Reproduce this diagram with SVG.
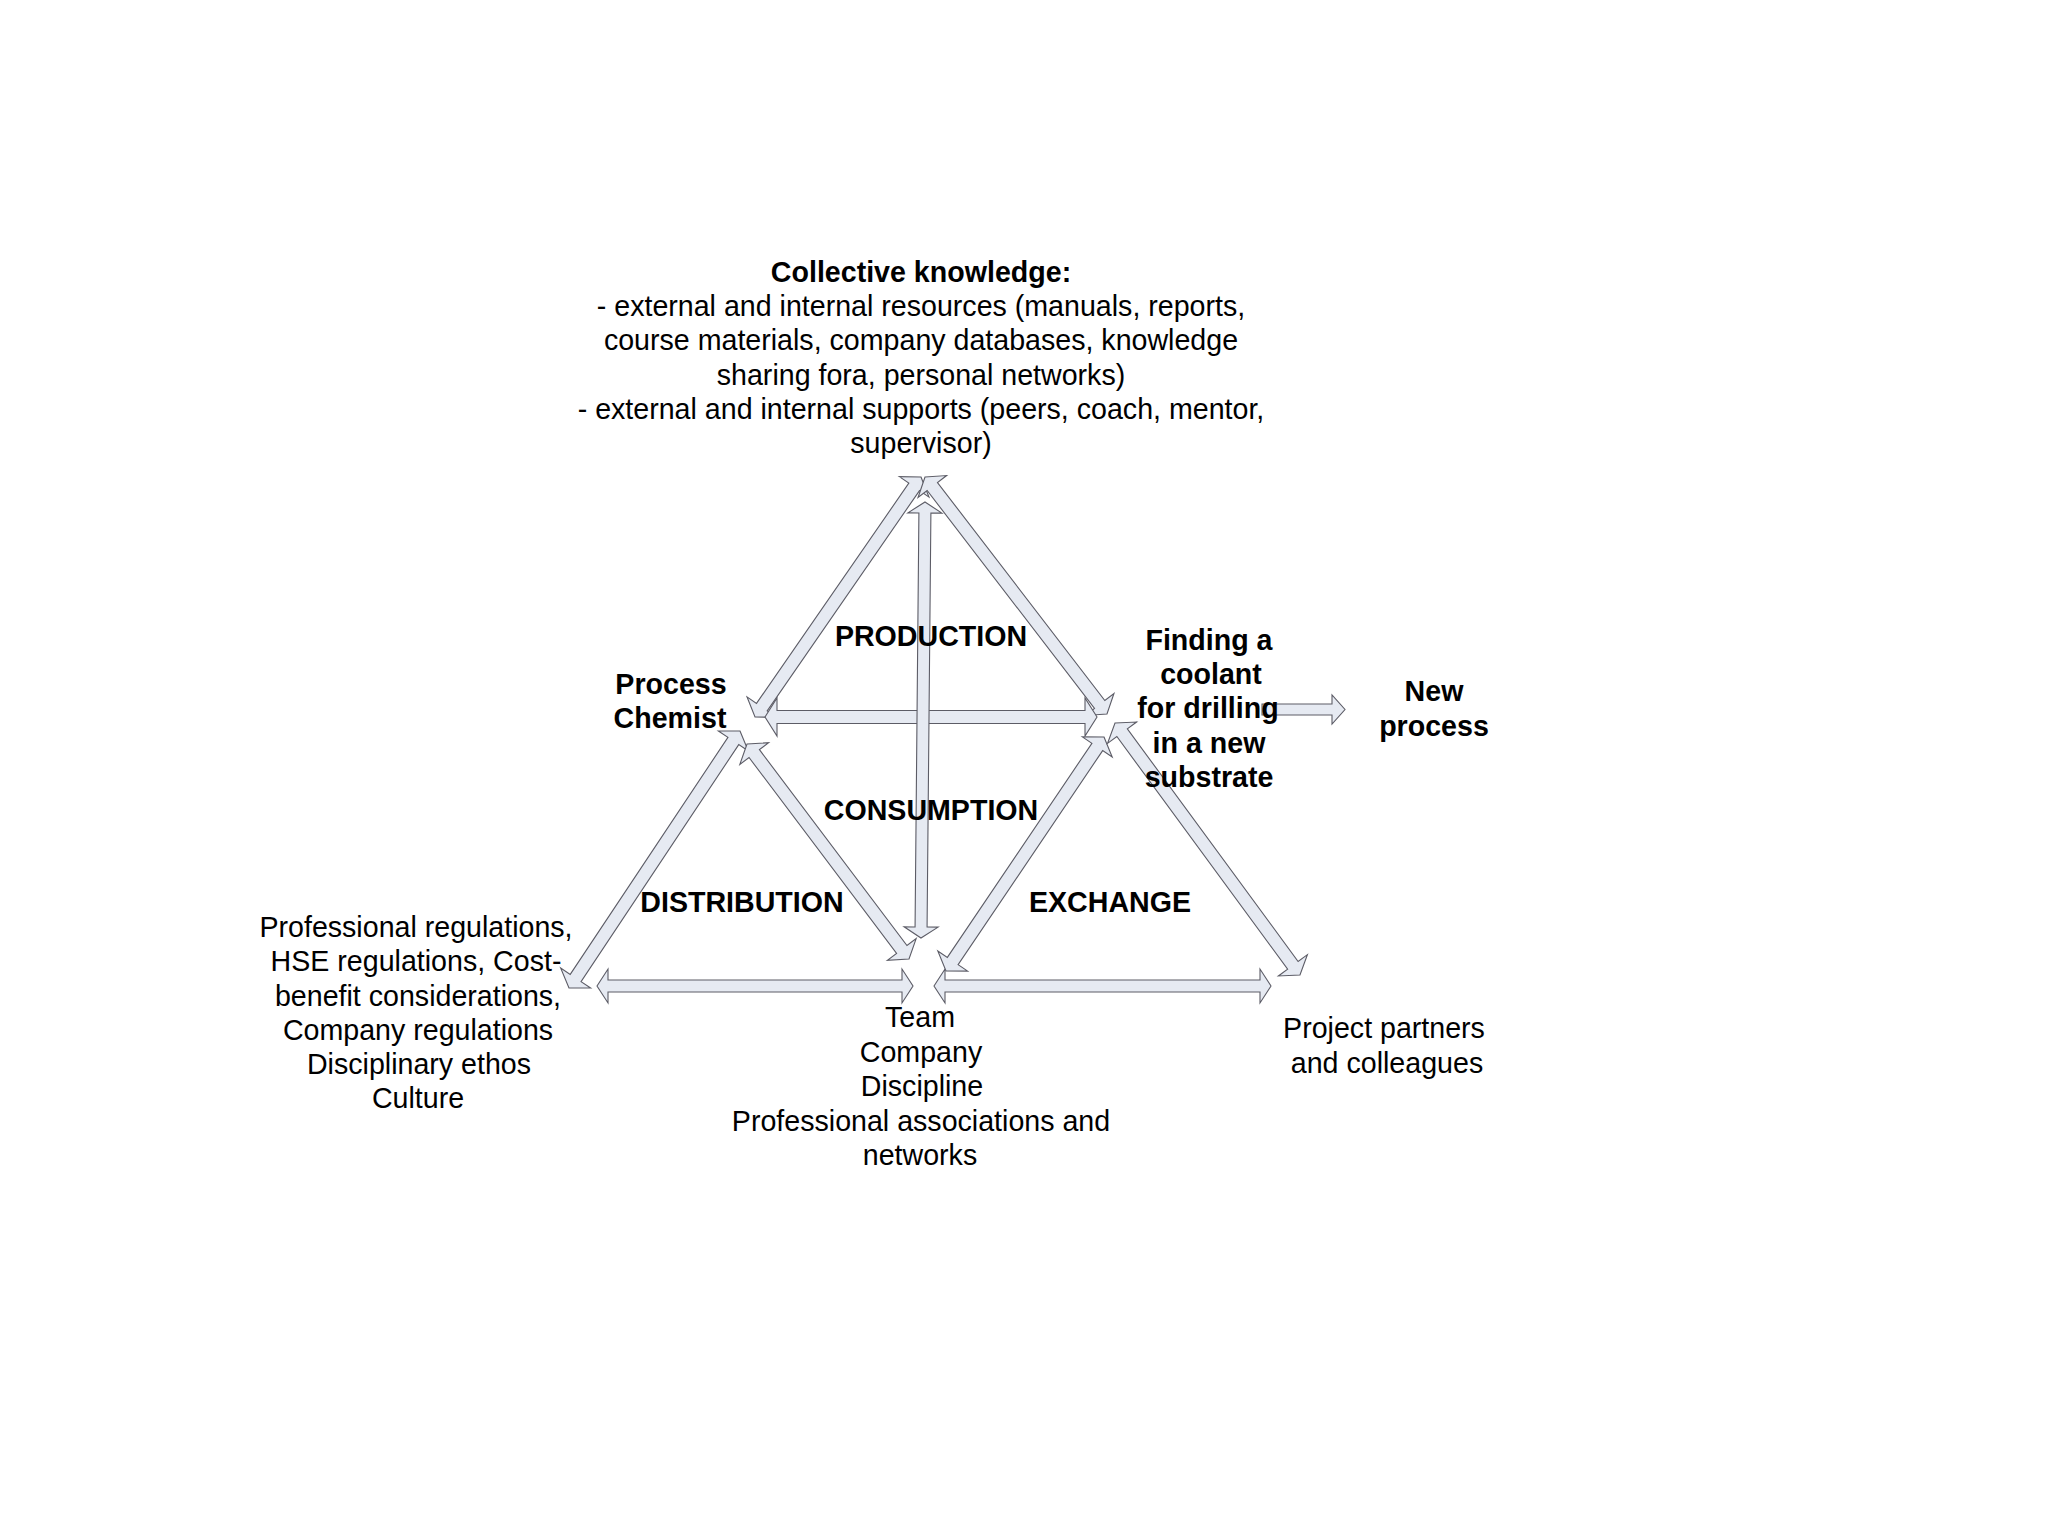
<svg xmlns="http://www.w3.org/2000/svg" width="2048" height="1536" viewBox="0 0 2048 1536">
<style>
.arr{fill:#e6eaf2;stroke:#5c5c66;stroke-width:1.1;stroke-linejoin:miter}
text{font-family:"Liberation Sans",Arial,sans-serif;font-size:28.6px;fill:#000;text-anchor:middle}
.b{font-weight:bold}
</style>
<rect width="2048" height="1536" fill="#ffffff"/>
<g id="connectors">
<polygon id="a-top-chemist" class="arr" transform="translate(921,477) rotate(124.67)" points="0,0 12,-18 12,-6.5 279.8,-6.5 279.8,-18 291.8,0 279.8,18 279.8,6.5 12,6.5 12,18"/>
<polygon id="a-top-finding" class="arr" transform="translate(925,477) rotate(52.48)" points="0,0 12,-18 12,-6.5 286.8,-6.5 286.8,-18 298.8,0 286.8,18 286.8,6.5 12,6.5 12,18"/>
<polygon id="a-chemist-finding" class="arr" transform="translate(765,717)" points="0,0 12,-19 12,-6.5 320,-6.5 320,-19 332,0 320,19 320,6.5 12,6.5 12,19"/>
<polygon id="a-chemist-regs" class="arr" transform="translate(740,731) rotate(123.64)" points="0,0 12,-18 12,-6.5 296.7,-6.5 296.7,-18 308.7,0 296.7,18 296.7,6.5 12,6.5 12,18"/>
<polygon id="a-chemist-team" class="arr" transform="translate(747,744) rotate(53.0)" points="0,0 12,-18 12,-6.5 257.2,-6.5 257.2,-18 269.2,0 257.2,18 257.2,6.5 12,6.5 12,18"/>
<polygon id="a-regs-team" class="arr" transform="translate(597,986)" points="0,0 11,-17 11,-6 305,-6 305,-17 316,0 305,17 305,6 11,6 11,17"/>
<polygon id="a-team-partners" class="arr" transform="translate(934,986)" points="0,0 11,-17 11,-6 326,-6 326,-17 337,0 326,17 326,6 11,6 11,17"/>
<polygon id="a-finding-team" class="arr" transform="translate(1104,737) rotate(124.03)" points="0,0 12,-18 12,-6.5 270.3,-6.5 270.3,-18 282.3,0 270.3,18 270.3,6.5 12,6.5 12,18"/>
<polygon id="a-finding-partners" class="arr" transform="translate(1115,723) rotate(53.72)" points="0,0 12,-18 12,-6.5 300.6,-6.5 300.6,-18 312.6,0 300.6,18 300.6,6.5 12,6.5 12,18"/>
<polygon id="a-top-team" class="arr" transform="translate(925,502) rotate(90.53)" points="0,0 11,-17 11,-6 425,-6 425,-17 436,0 425,17 425,6 11,6 11,17"/>
<polygon id="a-finding-new" class="arr" transform="translate(1262,709.5)" points="0,-5.5 70,-5.5 70,-14.5 83,0 70,14.5 70,5.5 0,5.5"/>
</g>
<g id="collective-knowledge">
<text class="b" x="921" y="282">Collective knowledge:</text>
<text x="921" y="316">- external and internal resources (manuals, reports,</text>
<text x="921" y="350">course materials, company databases, knowledge</text>
<text x="921" y="385">sharing fora, personal networks)</text>
<text x="921" y="419">- external and internal supports (peers, coach, mentor,</text>
<text x="921" y="453">supervisor)</text>
</g>
<g id="production"><text class="b" x="931" y="646">PRODUCTION</text></g>
<g id="consumption"><text class="b" x="931" y="820">CONSUMPTION</text></g>
<g id="distribution"><text class="b" x="742" y="912">DISTRIBUTION</text></g>
<g id="exchange"><text class="b" x="1110" y="912">EXCHANGE</text></g>
<g id="process-chemist">
<text class="b" x="671" y="694">Process</text>
<text class="b" x="670" y="728">Chemist</text>
</g>
<g id="finding-coolant">
<text class="b" x="1209" y="650">Finding a</text>
<text class="b" x="1211" y="684">coolant</text>
<text class="b" x="1208" y="718">for drilling</text>
<text class="b" x="1209" y="753">in a new</text>
<text class="b" x="1209" y="787">substrate</text>
</g>
<g id="new-process">
<text class="b" x="1434" y="701">New</text>
<text class="b" x="1434" y="736">process</text>
</g>
<g id="regulations">
<text x="416" y="937">Professional regulations,</text>
<text x="416" y="971">HSE regulations, Cost-</text>
<text x="418" y="1006">benefit considerations,</text>
<text x="418" y="1040">Company regulations</text>
<text x="419" y="1074">Disciplinary ethos</text>
<text x="418" y="1108">Culture</text>
</g>
<g id="community">
<text x="920" y="1027">Team</text>
<text x="921" y="1062">Company</text>
<text x="922" y="1096">Discipline</text>
<text x="921" y="1131">Professional associations and</text>
<text x="920" y="1165">networks</text>
</g>
<g id="project-partners">
<text x="1384" y="1038">Project partners</text>
<text x="1387" y="1073">and colleagues</text>
</g>
</svg>
